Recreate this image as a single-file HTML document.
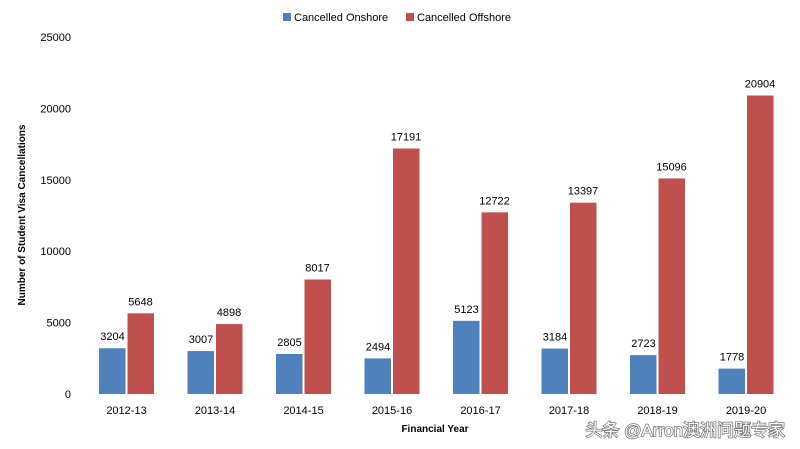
<!DOCTYPE html>
<html><head><meta charset="utf-8"><style>
body{margin:0;background:#fff;width:800px;height:444px;overflow:hidden;font-family:"Liberation Sans","Noto Sans CJK SC",sans-serif;}
svg text{font-family:"Liberation Sans","Noto Sans CJK SC",sans-serif;fill:#000;}
</style></head><body>
<svg id="chart" width="800" height="444" xmlns="http://www.w3.org/2000/svg">
<g>
 <rect x="283" y="13" width="8" height="8" fill="#4f81bd"/>
 <text x="294" y="21" font-size="11">Cancelled Onshore</text>
 <rect x="406" y="13" width="8" height="8" fill="#c0504d"/>
 <text x="417" y="21" font-size="11">Cancelled Offshore</text>
</g>
<text transform="translate(25,215) rotate(-90)" text-anchor="middle" font-size="10" font-weight="bold">Number of Student Visa Cancellations</text>
<text x="435" y="432" text-anchor="middle" font-size="10" font-weight="bold">Financial Year</text>
<g id="yticks"></g><g id="bars"></g>
<text x="785" y="436" text-anchor="end" font-size="17" style="fill:#fff;paint-order:stroke;stroke:#777;stroke-width:1.5px">头条 @Arron澳洲问题专家</text>
</svg>
<script>
const categories=["2012-13","2013-14","2014-15","2015-16","2016-17","2017-18","2018-19","2019-20"];
const onshore=[3204,3007,2805,2494,5123,3184,2723,1778];
const offshore=[5648,4898,8017,17191,12722,13397,15096,20904];
const yTicks=[0,5000,10000,15000,20000,25000];
const NS="http://www.w3.org/2000/svg";
const x0=82.25,step=88.5,yBase=394,yTop=37,yMax=25000;
const y=v=>yBase-(v/yMax)*(yBase-yTop);
const xc=i=>x0+step*(i+0.5);
function mk(tag,attrs,txt){const e=document.createElementNS(NS,tag);for(const k in attrs)e.setAttribute(k,attrs[k]);if(txt!==undefined)e.textContent=txt;return e;}
const yt=document.getElementById('yticks');
yTicks.forEach(t=>{const e=mk('text',{x:71,y:y(t)+4,'text-anchor':'end','font-size':11},t);


yt.appendChild(e);});
const bars=document.getElementById('bars');
categories.forEach((c,i)=>{
 const cx=xc(i);
 const b1=mk('rect',{x:cx-27.5,y:y(onshore[i]),width:26.5,height:yBase-y(onshore[i]),fill:'#4f81bd'});
 
 
 bars.appendChild(b1);
 const b2=mk('rect',{x:cx+1,y:y(offshore[i]),width:26.5,height:yBase-y(offshore[i]),fill:'#c0504d'});
 
 
 bars.appendChild(b2);
 const l1=mk('text',{x:cx-14,y:y(onshore[i])-8,'text-anchor':'middle','font-size':11},onshore[i]);
 
 
 bars.appendChild(l1);
 const l2=mk('text',{x:cx+14,y:y(offshore[i])-8,'text-anchor':'middle','font-size':11},offshore[i]);
 
 
 bars.appendChild(l2);
 const cl=mk('text',{x:cx,y:414,'text-anchor':'middle','font-size':11},c);
 
 
 bars.appendChild(cl);
});
</script>
</body></html>
